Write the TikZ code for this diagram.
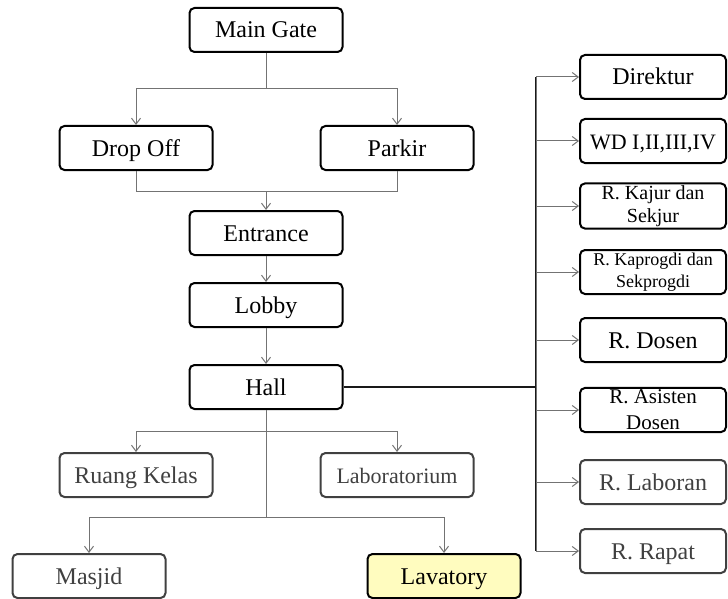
\documentclass[tikz,border=0pt]{standalone}
\usepackage{fontspec}
\setmainfont{Liberation Serif}
\usetikzlibrary{arrows.meta}
\begin{document}
\begin{tikzpicture}[x=0.5pt,y=-0.5pt,>={Straight Barb[length=3pt,width=4.5pt]}]
	\tikzstyle{room}=[rectangle,rounded corners=2.5pt,line width=1pt,draw=black,fill=white,minimum width=76.5pt,minimum height=22pt,inner sep=1pt,text height=10pt,text depth=2pt,font=\fontsize{12}{14}\selectfont]
	\tikzstyle{unit}=[room,minimum width=73pt,align=center]
	\tikzstyle{twoline}=[text height=,text depth=]
	\tikzstyle{faded}=[draw=black!75,text=black!75]
	\tikzstyle{link}=[draw,line width=0.5pt,black!55]
	\tikzstyle{trunk}=[draw,line width=0.6pt,black!90]
	\useasboundingbox (0,0) rectangle (728,599);
	\begin{scope}
		\node [room] (gate) at (266,30) {Main Gate};
		\node [room] (drop) at (136,148) {Drop Off};
		\node [room] (parkir) at (397,148) {Parkir};
		\node [room] (entrance) at (266,233) {Entrance};
		\node [room] (lobby) at (266,305) {Lobby};
		\node [room] (hall) at (266,387) {Hall};
		\node [room,faded] (kelas) at (136,475) {Ruang Kelas};
		\node [room,faded,font=\fontsize{11}{13}\selectfont] (lab) at (397,475) {Laboratorium};
		\node [room,faded] (masjid) at (89,576) {Masjid};
		\node [room,fill=yellow!25] (lavatory) at (444,576) {Lavatory};

		\node [unit] (direktur) at (653,77) {Direktur};
		\node [unit,font=\fontsize{11}{13}\selectfont] (wd) at (653,141) {WD I,II,III,IV};
		\node [unit,twoline,font=\fontsize{10}{11.5}\selectfont] (kajur) at (653,206) {R. Kajur dan\\Sekjur};
		\node [unit,twoline,font=\fontsize{9}{11}\selectfont] (kaprogdi) at (653,272) {R. Kaprogdi dan\\Sekprogdi};
		\node [unit] (dosen) at (653,340) {R. Dosen};
		\node [unit,twoline,font=\fontsize{10.5}{13}\selectfont] (asisten) at (653,410) {R. Asisten\\Dosen};
		\node [unit,faded] (laboran) at (653,482) {R. Laboran};
		\node [unit,faded] (rapat) at (653,551) {R. Rapat};

		\coordinate (split1) at (266,89);
		\coordinate (join1) at (266,191);
		\coordinate (split2) at (266,431);
		\coordinate (split3) at (266,517);
		\coordinate (bus) at (536,387);
		\coordinate (bustop) at (536,77);
		\coordinate (busend) at (536,551);

		\path[link] (gate) -- (split1);
		\path[link,->] (split1) -| (drop);
		\path[link,->] (split1) -| (parkir);
		\path[link] (drop) |- (join1);
		\path[link] (parkir) |- (join1);
		\path[link,->] (join1) -- (entrance);
		\path[link,->] (entrance) -- (lobby);
		\path[link,->] (lobby) -- (hall);
		\path[link] (hall) -- (split3);
		\path[link,->] (split2) -| (kelas);
		\path[link,->] (split2) -| (lab);
		\path[link,->] (split3) -| (masjid);
		\path[link,->] (split3) -| (lavatory);
		\path[trunk] (hall) -- (bus);
		\path[trunk] (bustop) -- (busend);
		\foreach \n in {direktur,wd,kajur,kaprogdi,dosen,asisten,laboran,rapat}
			\path[link,->] (bus) |- (\n);
	\end{scope}
\end{tikzpicture}
\end{document}
